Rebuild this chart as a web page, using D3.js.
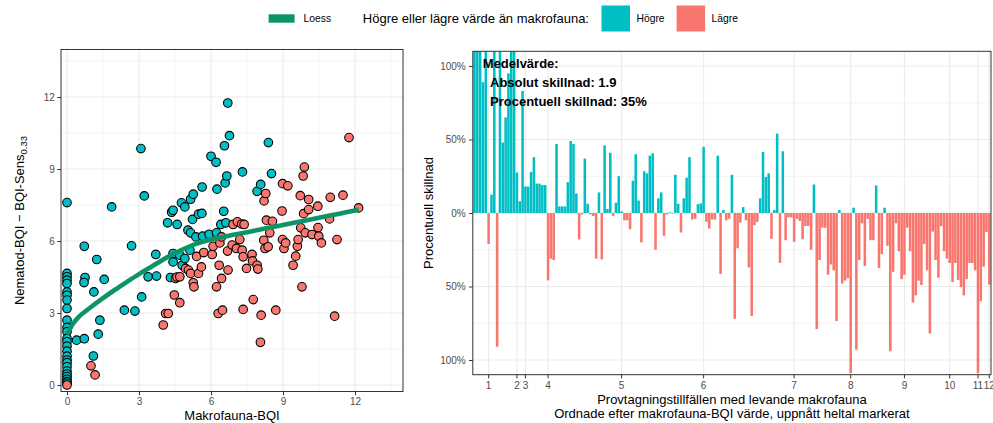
<!DOCTYPE html>
<html>
<head>
<meta charset="utf-8">
<script src="https://cdn.jsdelivr.net/npm/d3@7"></script>
<style>
  body { margin: 0; background: #fff; }
  svg { display: block; }
  text { font-family: "Liberation Sans", Arial, Helvetica, sans-serif; }
</style>
</head>
<body>
<svg id="chart" width="993" height="423"></svg>
<script>
// ---------- Scatter: macrofauna BQI vs nematode BQI ----------
const makroBQI = [
  0,0,0,0,0,0,0,0,0,0,0,0,0,0,0,0,0,0,0,0,0,0,0,0,0,0,0,
  0.40,0.72,0.72,0.75,0.71,1.00,1.10,1.12,1.17,1.24,1.30,1.37,1.55,1.86,2.39,2.69,2.83,3.08,3.11,3.22,
  3.38,3.70,3.73,4.01,4.11,4.19,4.22,4.31,4.36,4.42,4.42,4.42,4.47,4.52,4.58,4.59,4.70,4.70,4.70,4.77,
  4.80,4.91,4.91,4.94,5.04,5.06,5.12,5.15,5.15,5.15,5.23,5.26,5.26,5.29,5.37,5.40,5.48,5.48,5.60,5.62,
  5.63,5.65,5.70,5.92,6.00,6.05,6.09,6.21,6.23,6.23,6.25,6.30,6.34,6.37,6.41,6.44,6.44,6.48,6.53,6.56,
  6.59,6.62,6.66,6.69,6.70,6.71,6.77,6.88,6.92,7.06,7.10,7.20,7.28,7.30,7.31,7.34,7.34,7.38,7.48,7.71,
  7.73,7.76,7.92,7.92,7.95,8.06,8.07,8.09,8.20,8.21,8.25,8.28,8.31,8.38,8.39,8.45,8.52,8.56,8.70,8.96,
  8.98,8.98,9.04,9.11,9.20,9.42,9.53,9.60,9.63,9.72,9.74,9.79,9.84,9.86,9.89,9.93,10.07,10.07,10.21,10.45,
  10.46,10.49,10.60,10.94,10.97,11.15,11.25,11.50,11.75,12.15
];
const nematodBQI = [
  7.60,4.65,4.51,4.37,4.23,3.88,3.74,3.54,3.19,2.70,2.40,2.22,1.94,1.80,1.62,1.41,1.20,1.04,0.93,0.76,0.58,0.46,0.35,0.24,0.14,0.07,0.00,
  1.87,1.93,5.78,4.48,4.27,0.80,1.21,3.88,0.42,5.23,2.12,2.70,4.40,7.42,3.12,5.80,3.08,9.85,3.67,7.88,
  4.51,5.44,4.54,2.50,2.98,6.76,2.98,4.48,7.20,7.28,5.13,5.48,3.75,4.44,4.50,6.69,3.43,4.51,5.41,7.59,
  4.99,7.42,5.27,4.86,6.45,4.79,5.62,7.74,6.34,4.65,6.90,7.95,4.26,4.09,6.17,5.36,7.12,4.65,4.92,7.15,
  8.25,6.20,5.52,6.28,9.53,5.44,5.78,9.28,6.34,4.09,8.16,2.98,4.99,5.92,6.69,6.17,4.44,3.12,7.24,9.97,
  8.42,6.76,8.71,5.58,11.75,4.79,10.39,5.83,6.69,5.69,6.80,6.06,6.71,5.62,8.88,5.34,3.15,6.69,4.86,5.44,
  5.17,3.56,8.07,4.99,4.83,1.78,8.36,2.91,6.03,7.67,5.69,7.98,6.87,5.76,10.10,6.34,8.81,6.82,3.12,7.25,
  8.39,6.06,5.69,5.92,8.30,4.99,5.37,5.78,6.06,7.89,6.55,4.09,8.71,7.14,9.08,6.34,7.73,7.31,6.27,7.45,
  6.56,6.20,5.92,6.92,7.82,2.87,6.06,7.91,10.31,7.38
];

// Loess fit (fitted values along macrofauna BQI)
const loessX = [0, 0.25, 0.5, 1, 1.5, 2, 2.5, 3, 3.5, 4, 4.5, 5, 5.5, 6, 6.5, 7, 7.5, 8, 8.5, 9, 9.5, 10, 10.5, 11, 11.5, 12, 12.15];
const loessY = [2.10, 2.55, 2.85, 3.25, 3.62, 3.97, 4.30, 4.62, 4.92, 5.22, 5.50, 5.73, 5.92, 6.06, 6.17, 6.27, 6.37, 6.47, 6.57, 6.67, 6.77, 6.87, 6.97, 7.07, 7.17, 7.27, 7.31];

const scatterTicks = [0, 3, 6, 9, 12];
const scatterMinor = [1.5, 4.5, 7.5, 10.5, 13.5];

// ---------- Bars: percent difference per sampling occasion ----------
const barPct = [
  3.6, 2.9, 1.8, 0.89, 2.3, -0.21, 0.125, 2.46, -0.91, 3.2,
  0.48, 0.65, 0.95, 1.84, 1.3, 0.275, 0.08, 0.83, 0.18, 0.18,
  0.28, 0.38, 0.20, 0.20, 0.19, 0.19, -0.458, -0.31, -0.32, 0.47,
  0.045, 0.045, 0.045, 0.21, 0.49, 0.47, 0.133, -0.18, -0.01, 0.37,
  0.063, -0.01, -0.02, -0.31, 0.14, -0.316, 0.46, 0.027, 0.41, -0.02,
  0.07, 0.25, 0.01, -0.05, -0.05, -0.11, 0.22, 0.40, 0.085, -0.20,
  0.284, 0.27, 0.39, 0.406, -0.25, 0.10, 0.14, -0.155, -0.01, 0.005,
  -0.005, 0.26, 0.063, -0.133, 0.10, 0.24, 0.38, -0.045, -0.04, 0.06,
  0.065, 0.45, -0.06, -0.106, -0.045, -0.045, 0.39, -0.415, 0.02, -0.05,
  -0.04, 0.26, -0.72, -0.24, -0.065, 0.04, -0.05, -0.37, -0.70, -0.083,
  -0.06, 0.10, 0.415, 0.245, 0.27, -0.175, 0.02, 0.54, -0.34, 0.42,
  -0.185, -0.03, -0.03, -0.196, -0.04, -0.054, -0.178, -0.088, -0.088, -0.25,
  0.194, -0.79, -0.32, -0.10, -0.10, -0.42, -0.35, -0.39, -0.735, 0.02,
  -0.48, -0.46, -0.444, -1.09, 0.036, -0.93, -0.32, -0.07, -0.36, -0.04,
  -0.185, -0.185, 0.187, -0.375, -0.28, 0.036, -0.223, -0.94, -0.40, -0.07,
  -0.26, -0.45, -0.42, -0.10, -0.26, -0.61, -0.56, -0.46, -0.49, -0.21,
  -0.39, -0.82, -0.126, -0.32, -0.44, -0.09, -0.26, -0.31, -0.34, -0.47,
  -0.34, -0.455, -0.505, -0.56, -0.45, -0.34, -0.34, -0.39, -1.09, -0.60,
  -0.365, -0.13, -0.487
];
// occasion index where each whole macrofauna-BQI value is first reached
const barTickIndex = [5, 15, 18, 26, 52, 81, 113, 133, 152, 168, 178, 182];
const barTickLabel = ["1", "2", "3", "4", "5", "6", "7", "8", "9", "10", "11", "12"];
const pctTicks = [-1, -0.5, 0, 0.5, 1];
const pctMinor = [-0.75, -0.25, 0.25, 0.75];

const meanAbsDiff = 1.9;
const meanPctDiff = 35;

// ---------- styling ----------
const COL_HI = "#00BFC4", COL_LO = "#F8766D", COL_LOESS = "#0c9467";
const GRID = "#EBEBEB", BORDER = "#333333", TICKTXT = "#4D4D4D";

const svg = d3.select("#chart");

// ---------------- left panel ----------------
const L = { x0: 61, x1: 403, y0: 49.5, y1: 391.5 };
const xL = d3.scaleLinear().domain([-0.25, 14.0]).range([L.x0, L.x1]);
const yL = d3.scaleLinear().domain([-0.27, 13.98]).range([L.y1, L.y0]);

svg.append("clipPath").attr("id", "clipL")
  .append("rect").attr("x", L.x0).attr("y", L.y0).attr("width", L.x1 - L.x0).attr("height", L.y1 - L.y0);

const gL = svg.append("g");
const gridL = gL.append("g").attr("clip-path", "url(#clipL)");
scatterMinor.forEach(v => {
  gridL.append("line").attr("x1", xL(v)).attr("x2", xL(v)).attr("y1", L.y0).attr("y2", L.y1)
    .attr("stroke", GRID).attr("stroke-width", 0.6);
  gridL.append("line").attr("y1", yL(v)).attr("y2", yL(v)).attr("x1", L.x0).attr("x2", L.x1)
    .attr("stroke", GRID).attr("stroke-width", 0.6);
});
scatterTicks.forEach(v => {
  gridL.append("line").attr("x1", xL(v)).attr("x2", xL(v)).attr("y1", L.y0).attr("y2", L.y1)
    .attr("stroke", GRID).attr("stroke-width", 1.1);
  gridL.append("line").attr("y1", yL(v)).attr("y2", yL(v)).attr("x1", L.x0).attr("x2", L.x1)
    .attr("stroke", GRID).attr("stroke-width", 1.1);
});

const pts = makroBQI.map((m, i) => ({ m, n: nematodBQI[i], hi: nematodBQI[i] > m }));
gL.append("g").attr("clip-path", "url(#clipL)")
  .selectAll("circle").data(pts).join("circle")
  .attr("cx", d => xL(d.m)).attr("cy", d => yL(d.n)).attr("r", 4.3)
  .attr("fill", d => d.hi ? COL_HI : COL_LO)
  .attr("stroke", "#000").attr("stroke-width", 1.1);

const loessLine = d3.line().x((d, i) => xL(loessX[i])).y(d => yL(d)).curve(d3.curveCatmullRom);
gL.append("path").datum(loessY).attr("d", loessLine)
  .attr("fill", "none").attr("stroke", COL_LOESS).attr("stroke-width", 4.6).attr("stroke-linecap", "butt");

gL.append("rect").attr("x", L.x0).attr("y", L.y0).attr("width", L.x1 - L.x0).attr("height", L.y1 - L.y0)
  .attr("fill", "none").attr("stroke", BORDER).attr("stroke-width", 1);

function styleAxis(g) {
  g.select(".domain").remove();
  g.selectAll(".tick line").attr("stroke", BORDER).attr("stroke-width", 1);
  g.selectAll(".tick text").attr("fill", TICKTXT).attr("font-size", 10)
    .attr("font-family", '"Liberation Sans", Arial, sans-serif');
}

svg.append("g").attr("transform", `translate(${L.x0},0)`)
  .call(d3.axisLeft(yL).tickValues(scatterTicks).tickSize(3.7).tickPadding(2.4))
  .call(styleAxis);
svg.append("g").attr("transform", `translate(0,${L.y1})`)
  .call(d3.axisBottom(xL).tickValues(scatterTicks).tickSize(3.7).tickPadding(3))
  .call(styleAxis);

svg.append("text").attr("x", (L.x0 + L.x1) / 2).attr("y", 419.5).attr("text-anchor", "middle")
  .attr("font-size", 13).attr("fill", "#000").text("Makrofauna-BQI");

const yTitleL = svg.append("text").attr("transform", `translate(23.5,${(L.y0 + L.y1) / 2}) rotate(-90)`)
  .attr("text-anchor", "middle").attr("font-size", 13).attr("fill", "#000");
yTitleL.append("tspan").text("Nematod-BQI \u2212 BQI-Sens");
yTitleL.append("tspan").attr("font-size", 9.5).attr("dy", 3).text("0.33");

// ---------------- right panel ----------------
const R = { x0: 472.8, x1: 991, y0: 51.3, y1: 374.7 };
const xR = d3.scaleBand().domain(d3.range(barPct.length)).range([R.x0, R.x1])
  .paddingInner(0.1).paddingOuter(0.15);
const yR = d3.scaleLinear().domain([-1.1, 1.1]).range([R.y1, R.y0]);

svg.append("clipPath").attr("id", "clipR")
  .append("rect").attr("x", R.x0).attr("y", R.y0).attr("width", R.x1 - R.x0).attr("height", R.y1 - R.y0);

const gR = svg.append("g");
const gridR = gR.append("g").attr("clip-path", "url(#clipR)");
pctMinor.forEach(v => {
  gridR.append("line").attr("y1", yR(v)).attr("y2", yR(v)).attr("x1", R.x0).attr("x2", R.x1)
    .attr("stroke", GRID).attr("stroke-width", 0.6);
});
pctTicks.forEach(v => {
  gridR.append("line").attr("y1", yR(v)).attr("y2", yR(v)).attr("x1", R.x0).attr("x2", R.x1)
    .attr("stroke", GRID).attr("stroke-width", 1.1);
});
barTickIndex.forEach(i => {
  const cx = xR(i) + xR.bandwidth() / 2;
  gridR.append("line").attr("x1", cx).attr("x2", cx).attr("y1", R.y0).attr("y2", R.y1)
    .attr("stroke", GRID).attr("stroke-width", 1.1);
});

gR.append("g").attr("clip-path", "url(#clipR)")
  .selectAll("rect").data(barPct).join("rect")
  .attr("x", (d, i) => xR(i)).attr("width", xR.bandwidth())
  .attr("y", d => yR(Math.max(0, d)))
  .attr("height", d => Math.abs(yR(d) - yR(0)))
  .attr("fill", d => d > 0 ? COL_HI : COL_LO);

gR.append("rect").attr("x", R.x0).attr("y", R.y0).attr("width", R.x1 - R.x0).attr("height", R.y1 - R.y0)
  .attr("fill", "none").attr("stroke", BORDER).attr("stroke-width", 1);

svg.append("g").attr("transform", `translate(${R.x0},0)`)
  .call(d3.axisLeft(yR).tickValues(pctTicks).tickSize(3.7).tickPadding(3.4)
    .tickFormat(d => Math.round(Math.abs(d) * 100) + "%"))
  .call(styleAxis);
svg.append("g").attr("transform", `translate(0,${R.y1})`)
  .call(d3.axisBottom(xR).tickValues(barTickIndex).tickSize(3.7).tickPadding(3.6)
    .tickFormat(d => barTickLabel[barTickIndex.indexOf(d)]))
  .call(styleAxis);

svg.append("text").attr("x", (R.x0 + R.x1) / 2).attr("y", 404).attr("text-anchor", "middle")
  .attr("font-size", 13).attr("fill", "#000").text("Provtagningstillfällen med levande makrofauna");
svg.append("text").attr("x", (R.x0 + R.x1) / 2).attr("y", 418).attr("text-anchor", "middle")
  .attr("font-size", 13).attr("fill", "#000").text("Ordnade efter makrofauna-BQI värde, uppnått heltal markerat");

svg.append("text").attr("transform", `translate(432.5,${(R.y0 + R.y1) / 2}) rotate(-90)`)
  .attr("text-anchor", "middle").attr("font-size", 13).attr("fill", "#000").text("Procentuell skillnad");

// summary annotation
const ann = svg.append("g").attr("font-size", 13).attr("font-weight", "bold").attr("fill", "#000");
ann.append("text").attr("x", 482.8).attr("y", 67.8).text("Medelvärde:");
ann.append("text").attr("x", 490).attr("y", 86.8).text(`Absolut skillnad: ${meanAbsDiff.toFixed(1)}`);
ann.append("text").attr("x", 490).attr("y", 105.6).text(`Procentuell skillnad: ${meanPctDiff}%`);

// ---------------- legend ----------------
const leg = svg.append("g");
leg.append("rect").attr("x", 268.6).attr("y", 14.3).attr("width", 26).attr("height", 8.4).attr("fill", COL_LOESS);
leg.append("text").attr("x", 303.6).attr("y", 22.3).attr("font-size", 10.3).attr("fill", "#000").text("Loess");
leg.append("text").attr("x", 362.8).attr("y", 23).attr("font-size", 13).attr("fill", "#000")
  .text("Högre eller lägre värde än makrofauna:");
leg.append("rect").attr("x", 601.5).attr("y", 5.5).attr("width", 28.5).attr("height", 26).attr("fill", COL_HI);
leg.append("text").attr("x", 636.5).attr("y", 22.3).attr("font-size", 10.3).attr("fill", "#000").text("Högre");
leg.append("rect").attr("x", 676.6).attr("y", 5.5).attr("width", 28.5).attr("height", 26).attr("fill", COL_LO);
leg.append("text").attr("x", 711.6).attr("y", 22.3).attr("font-size", 10.3).attr("fill", "#000").text("Lägre");
</script>
</body>
</html>
